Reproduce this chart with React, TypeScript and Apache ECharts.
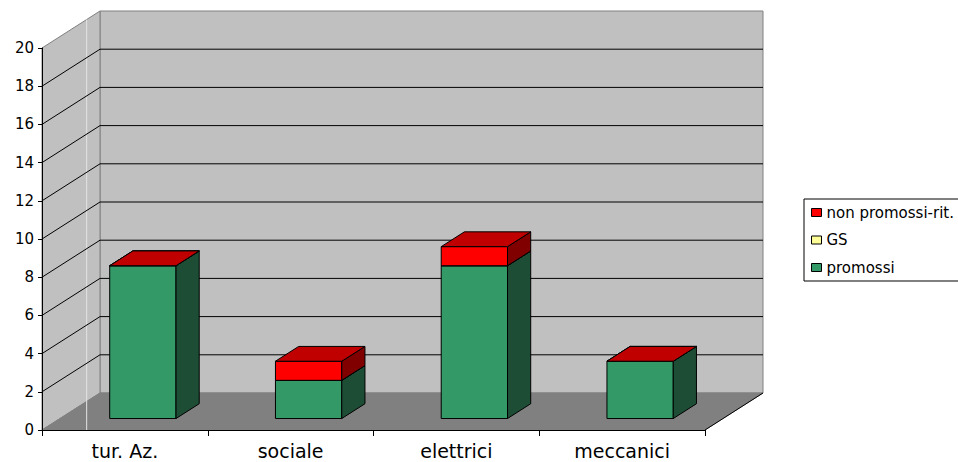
import React, { useEffect, useRef } from "react";
import * as echarts from "echarts";

const categories = ["tur. Az.", "sociale", "elettrici", "meccanici"];
const promossi = [8, 2, 8, 3];
const gs = [0, 0, 0, 0];
const nonPromossi = [0, 1, 1, 0];
const yTicks = [0, 2, 4, 6, 8, 10, 12, 14, 16, 18, 20];
const legendOrder = ["non promossi-rit.", "GS", "promossi"];

const FONT = "DejaVu Sans";
const DX = 58;
const DY = -37;
const BAR_Z0 = 0.31;
const BAR_DEPTH = 0.4;
const BAR_W = 0.4;

type Faces = { front: string; side: string; top: string };

function barSeries(name: string, values: number[], bases: number[], faces: Faces) {
  return {
    type: "custom",
    name,
    z: 3,
    silent: true,
    itemStyle: { color: faces.front },
    encode: { x: 0, y: [1, 2] },
    data: values.map((v, i) => [i, bases[i], bases[i] + v]),
    renderItem: (params: any, api: any) => {
      const i = api.value(0);
      const b = api.value(1);
      const t = api.value(2);
      const cb = api.coord([i, b]);
      const ct = api.coord([i, t]);
      const bandW = api.size([1, 0])[0];
      const w = bandW * BAR_W;
      const ox = DX * BAR_Z0;
      const oy = DY * BAR_Z0;
      const dx = DX * BAR_DEPTH;
      const dy = DY * BAR_DEPTH;
      const x0 = cb[0] - w / 2 + ox;
      const x1 = x0 + w;
      const yb = cb[1] + oy;
      const yt = ct[1] + oy;
      const st = { stroke: "#000", lineWidth: 1 };
      const children: any[] = [];
      if (t > b) {
        children.push({
          type: "polygon",
          shape: { points: [[x0, yt], [x1, yt], [x1, yb], [x0, yb]] },
          style: { fill: faces.front, ...st },
        });
        children.push({
          type: "polygon",
          shape: { points: [[x1, yt], [x1 + dx, yt + dy], [x1 + dx, yb + dy], [x1, yb]] },
          style: { fill: faces.side, ...st },
        });
      }
      children.push({
        type: "polygon",
        shape: { points: [[x0, yt], [x1, yt], [x1 + dx, yt + dy], [x0 + dx, yt + dy]] },
        style: { fill: faces.top, ...st },
      });
      return { type: "group", children };
    },
  };
}

export default function App() {
  const ref = useRef<HTMLDivElement>(null);
  useEffect(() => {
    if (!ref.current) return;
    const chart = echarts.init(ref.current, null, { renderer: "svg" });
    const gsBase = promossi.map((p) => p);
    const nonBase = promossi.map((p, i) => p + gs[i]);
    const zeros = promossi.map(() => 0);

    const wallSeries = {
      type: "custom",
      name: "walls",
      z: 1,
      silent: true,
      encode: { x: 0, y: 1 },
      data: [[0, 0]],
      renderItem: (params: any, api: any) => {
        const cs = params.coordSys;
        const L = cs.x;
        const R = cs.x + cs.width;
        const yOf = (v: number) => api.coord([0, v])[1];
        const y0 = yOf(yTicks[0]);
        const yT = yOf(yTicks[yTicks.length - 1]);
        const children: any[] = [];
        children.push({
          type: "polygon",
          shape: { points: [[L + DX, yT + DY], [R + DX, yT + DY], [R + DX, y0 + DY], [L + DX, y0 + DY]] },
          style: { fill: "#c0c0c0", stroke: "#808080", lineWidth: 1 },
        });
        children.push({
          type: "polygon",
          shape: { points: [[L, yT], [L + DX, yT + DY], [L + DX, y0 + DY], [L, y0]] },
          style: { fill: "#c0c0c0", stroke: "#808080", lineWidth: 1 },
        });
        children.push({
          type: "polygon",
          shape: { points: [[L, y0], [R, y0], [R + DX, y0 + DY], [L + DX, y0 + DY]] },
          style: { fill: "#808080", stroke: "#808080", lineWidth: 1 },
        });
        const f = 0.77;
        children.push({
          type: "line",
          shape: { x1: L + DX * f, y1: yT + DY * f, x2: L + DX * f, y2: y0 },
          style: { stroke: "#e4e4e4", lineWidth: 1 },
        });
        children.push({
          type: "line",
          shape: { x1: R, y1: y0, x2: R + DX, y2: y0 + DY },
          style: { stroke: "#000", lineWidth: 1 },
        });
        yTicks.slice(1, -1).forEach((v) => {
          const y = yOf(v);
          children.push({
            type: "polyline",
            shape: { points: [[L, y], [L + DX, y + DY], [R + DX, y + DY]] },
            style: { stroke: "#000", lineWidth: 1, fill: "none" },
          });
        });
        return { type: "group", children };
      },
    };

    chart.setOption({
      animation: false,
      textStyle: { fontFamily: FONT },
      grid: { left: 42, top: 48, width: 663, height: 382, containLabel: false },
      legend: {
        data: legendOrder,
        orient: "vertical",
        left: 804,
        top: 199,
        padding: [6, 14, 6, 7],
        itemGap: 12.5,
        itemWidth: 10,
        itemHeight: 8,
        icon: "rect",
        borderColor: "#000",
        borderWidth: 1,
        selectedMode: false,
        itemStyle: { borderColor: "#000", borderWidth: 1 },
        textStyle: { fontFamily: FONT, fontSize: 15, color: "#000", lineHeight: 15, padding: 0 },
      },
      xAxis: {
        type: "category",
        data: categories,
        z: 10,
        boundaryGap: true,
        axisLine: { show: true, lineStyle: { color: "#000", width: 1 } },
        axisTick: { show: true, length: 6, lineStyle: { color: "#000" } },
        axisLabel: { fontFamily: FONT, fontSize: 19, lineHeight: 20, color: "#000", margin: 11 },
        splitLine: { show: false },
      },
      yAxis: {
        type: "value",
        min: 0,
        max: 20,
        interval: 2,
        z: 10,
        axisLine: { show: true, lineStyle: { color: "#000", width: 1 } },
        axisTick: { show: true, length: 4, lineStyle: { color: "#000" } },
        axisLabel: { fontFamily: FONT, fontSize: 15, color: "#000", margin: 8 },
        splitLine: { show: false },
      },
      series: [
        wallSeries,
        barSeries("promossi", promossi, zeros, { front: "#339966", side: "#1d4d35", top: "#2a7a52" }),
        barSeries("GS", gs, gsBase, { front: "#ffff99", side: "#80804d", top: "#cccc7a" }),
        barSeries("non promossi-rit.", nonPromossi, nonBase, { front: "#ff0000", side: "#800000", top: "#c00000" }),
      ],
    });
    return () => chart.dispose();
  }, []);
  return (
    <div
      ref={ref}
      style={{ position: "fixed", left: 0, top: 0, width: 958, height: 462, background: "#fff" }}
    />
  );
}
